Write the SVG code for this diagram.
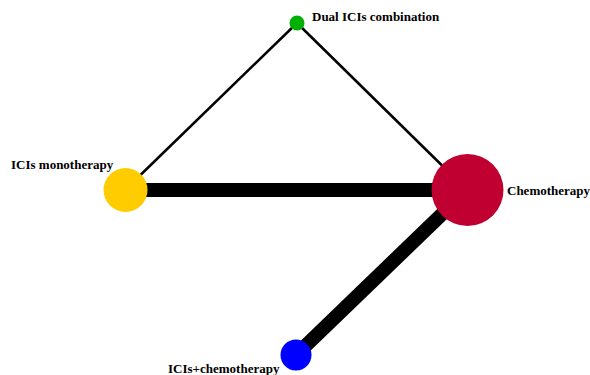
<svg xmlns="http://www.w3.org/2000/svg" width="590" height="375" viewBox="0 0 590 375">
<style>
.lbl{font-family:"Liberation Serif","Times New Roman",serif;font-weight:bold;font-size:13px;fill:#000}
.thin{stroke:#000;stroke-width:2.5;fill:none}
.thick{stroke:#000;stroke-width:14;fill:none}
</style>
<rect width="590" height="375" fill="#fff"/>
<g id="connectors">
<line class="thin" x1="125" y1="190" x2="297" y2="23"/>
<line class="thin" x1="297" y1="23" x2="467" y2="190"/>
<line class="thick" x1="125" y1="190" x2="467" y2="190"/>
<line class="thick" x1="467" y1="190" x2="296" y2="355"/>
</g>
<g id="dual">
<circle cx="297" cy="23" r="7.5" fill="#00b000"/>
<text class="lbl" x="312" y="21">Dual ICIs combination</text>
</g>
<g id="mono">
<circle cx="125.5" cy="190" r="22" fill="#ffcc00"/>
<text class="lbl" x="11" y="169">ICIs monotherapy</text>
</g>
<g id="chemo">
<circle cx="467.5" cy="190" r="36" fill="#c00030"/>
<text class="lbl" x="507" y="195">Chemotherapy</text>
</g>
<g id="icichemo">
<circle cx="296" cy="355" r="15.5" fill="#0000ff"/>
<text class="lbl" x="168" y="373">ICIs+chemotherapy</text>
</g>
</svg>
